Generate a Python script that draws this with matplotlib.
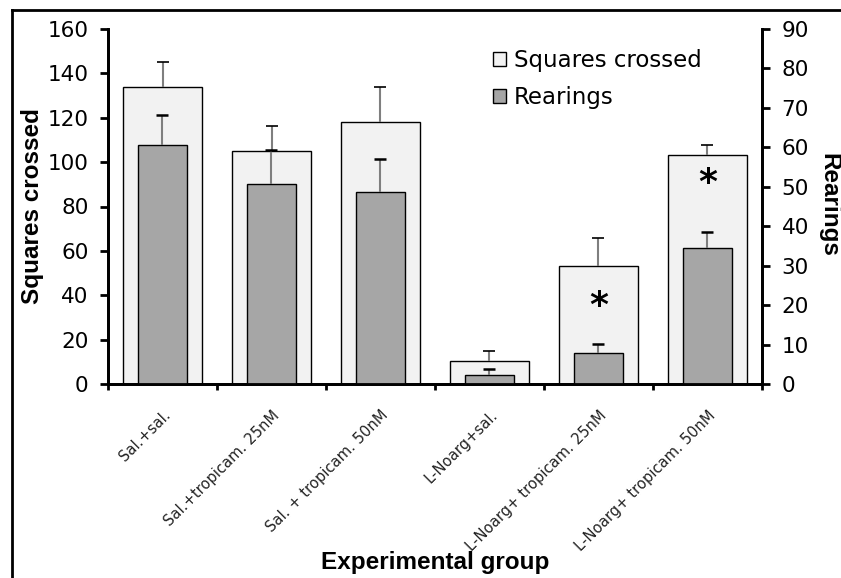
import matplotlib
matplotlib.use("Agg")
import matplotlib.pyplot as plt
import numpy as np
from matplotlib.lines import Line2D
from matplotlib.patches import Patch
from matplotlib.transforms import ScaledTranslation

categories = ["Sal.+sal.", "Sal.+tropicam. 25nM", "Sal. + tropicam. 50nM",
              "L-Noarg+sal.", "L-Noarg+ tropicam. 25nM", "L-Noarg+ tropicam. 50nM"]
squares = [134, 105, 118, 10.5, 53, 103]
squares_err = [11, 11.3, 15.8, 4.5, 12.7, 4.5]
rearings = [60.7, 50.8, 48.8, 2.3, 7.9, 34.5]
rearings_err = [7.5, 8.4, 8.3, 1.6, 2.3, 4.0]
significant = [False, False, False, False, True, True]
star_y = [0, 0, 0, 0, 35, 90.6]

W, H = 841, 578
fig = plt.figure(figsize=(W / 100, H / 100), dpi=100)
ax = fig.add_axes([108 / W, 1 - 384 / H, (762 - 108) / W, (384 - 29) / H])
ax2 = ax.twinx()

x = np.arange(len(categories))
sq_color = "#f2f2f2"
re_color = "#a6a6a6"


def style_caps(eb, base):
    for c in eb[1]:
        yd = np.asarray(c.get_ydata(), dtype=float)
        if np.allclose(yd, base):
            c.set_visible(False)
        else:
            c.set_markeredgecolor("black")
            c.set_color("black")


ax.bar(x, squares, width=0.72, color=sq_color, edgecolor="black", linewidth=1.0, zorder=2)
eb1 = ax.errorbar(x, squares, yerr=[np.zeros(len(x)), squares_err], fmt="none",
                  ecolor="#7f7f7f", elinewidth=1.5, capsize=4, capthick=1.2, zorder=3)
style_caps(eb1, squares)

ax2.bar(x, rearings, width=0.45, color=re_color, edgecolor="black", linewidth=1.0, zorder=2)
eb2 = ax2.errorbar(x, rearings, yerr=[np.zeros(len(x)), rearings_err], fmt="none",
                   ecolor="#7f7f7f", elinewidth=1.5, capsize=4, capthick=1.8, zorder=3)
style_caps(eb2, rearings)

for xi, s, yy in zip(x, significant, star_y):
    if s:
        ax.text(xi, yy, "*", ha="center", va="center", fontsize=26, fontweight="bold",
                family="DejaVu Sans", zorder=5)

ax.set_xlim(-0.5, len(x) - 0.5)
ax.set_ylim(0, 160)
ax2.set_ylim(0, 90)
ax.set_yticks(np.arange(0, 161, 20))
ax2.set_yticks(np.arange(0, 91, 10))

ax.set_xticks(np.arange(-0.5, len(x), 1.0))
ax.set_xticklabels([])
ax.set_xticks(x, minor=True)
ax.set_xticklabels(categories, minor=True, rotation=45, ha="right", va="top",
                   rotation_mode="anchor", fontsize=10.6, family="DejaVu Sans", color="#222222")
shift = ScaledTranslation(-6 / 72, 0, fig.dpi_scale_trans)
for lab in ax.get_xticklabels(minor=True):
    lab.set_transform(lab.get_transform() + shift)
ax.tick_params(axis="x", which="major", direction="out", length=4, width=2)
ax.tick_params(axis="x", which="minor", length=0, pad=17)
ax.tick_params(axis="y", direction="out", length=6, width=2, pad=8, labelsize=15.5)
ax2.tick_params(axis="y", direction="out", length=6, width=2, pad=8, labelsize=15.5)
for lab in ax.get_yticklabels() + ax2.get_yticklabels():
    lab.set_family("DejaVu Sans")

for a in (ax, ax2):
    a.spines["top"].set_visible(False)
    for s in ("left", "right", "bottom"):
        a.spines[s].set_linewidth(2)

fig.text(33 / W, 1 - 206 / H, "Squares crossed", rotation=90, ha="center", va="center",
         fontsize=17.5, fontweight="bold", family="Liberation Sans")
fig.text(829 / W, 1 - 205 / H, "Rearings", rotation=270, ha="center", va="center",
         fontsize=17.5, fontweight="bold", family="Liberation Sans")
fig.text(435 / W, 1 - 569 / H, "Experimental group", ha="center", va="baseline",
         fontsize=17.5, fontweight="bold", family="Liberation Sans")

handles = [Patch(facecolor=sq_color, edgecolor="black", linewidth=1.0),
           Patch(facecolor=re_color, edgecolor="black", linewidth=1.0)]
leg = ax2.legend(handles, ["Squares crossed", "Rearings"], loc="upper left",
                 bbox_to_anchor=(493 / W, 1 - 49 / H), bbox_transform=fig.transFigure,
                 frameon=False, prop={"family": "DejaVu Sans", "size": 16.5},
                 handlelength=0.55, handleheight=0.55, handletextpad=0.35,
                 labelspacing=0.6, borderpad=0, borderaxespad=0)

fig.add_artist(Line2D([12 / W, 1.0], [1 - 10 / H, 1 - 10 / H], color="black",
                      linewidth=2, transform=fig.transFigure))
fig.add_artist(Line2D([12 / W, 12 / W], [1 - 10 / H, 0.0], color="black",
                      linewidth=2, transform=fig.transFigure))

fig.savefig("out.png", dpi=100)
